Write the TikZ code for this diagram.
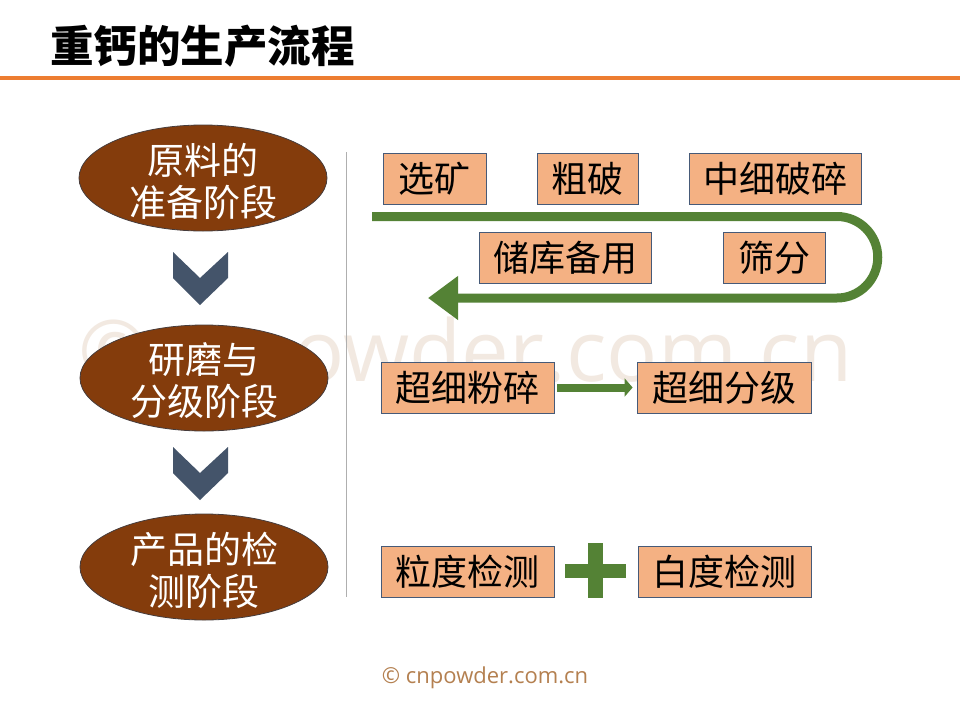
\documentclass[tikz,border=0pt]{standalone}
\usepackage{fontspec}
\usetikzlibrary{arrows.meta,shapes.geometric}
\newfontfamily\cjk{Noto Sans CJK SC}
\newfontfamily\wmfont{Open Sans}
\definecolor{stagebrown}{RGB}{132,60,12}
\definecolor{stageedge}{RGB}{70,60,60}
\definecolor{boxfill}{RGB}{244,177,131}
\definecolor{boxedge}{RGB}{70,90,120}
\definecolor{flowgreen}{RGB}{84,130,53}
\definecolor{chevcol}{RGB}{68,84,106}
\definecolor{titleline}{RGB}{237,125,49}
\definecolor{wmcol}{RGB}{242,233,225}
\definecolor{footcol}{RGB}{180,128,80}
\definecolor{sepgray}{RGB}{175,175,175}
\tikzset{
  stage/.style={ellipse, fill=stagebrown, draw=stageedge, line width=0.8pt,
    minimum width=248pt, minimum height=106pt, inner sep=0pt,
    text=white, align=center, font=\cjk\fontsize{37}{42}\selectfont},
  stagetext/.style={inner sep=0pt, text=white, align=center, font=\cjk\fontsize{37}{42}\selectfont},
  stepbox/.style={rectangle, fill=boxfill, draw=boxedge, line width=0.8pt,
    minimum height=51pt, inner sep=0pt, text=black,
    font=\cjk\fontsize{36}{38}\selectfont},
  chev/.style={fill=chevcol},
  flow/.style={draw=flowgreen, line width=9pt},
}
\begin{document}
\begin{tikzpicture}[x=1pt,y=-1pt]
\useasboundingbox[fill=white] (0,0) rectangle (960,720);
% watermark
\node[anchor=base west, inner sep=0pt, text=wmcol, font=\wmfont\fontsize{85}{85}\selectfont] (wm) at (78,381) {©cnpowder.com.cn};
% title
\node[anchor=west, inner sep=0pt, font=\cjk\bfseries\fontsize{43.5}{46}\selectfont] (title) at (50,46) {重钙的生产流程};
\draw[titleline, line width=4pt] (0,78) -- (960,78);
% separator
\draw[sepgray, line width=1pt] (346,152) -- (346,597);
% stages
\node[stage] (s1) at (203,178) {};
\node[stagetext] (s1t) at (203,181) {原料的\\准备阶段};
\node[stage] (s2) at (204,378) {};
\node[stagetext] (s2t) at (204,381) {研磨与\\分级阶段};
\node[stage] (s3) at (204,567) {};
\node[stagetext] (s3t) at (204,570) {产品的检\\测阶段};
% chevrons
\fill[chev] (173,252) -- (200,278) -- (228,252) -- (228,278) -- (200,305) -- (173,278) -- cycle;
\fill[chev] (173,447) -- (200,473) -- (228,447) -- (228,473) -- (200,500) -- (173,473) -- cycle;
% row 1 boxes
\node[stepbox, minimum width=103pt] (b1) at (434.5,178.5) {选矿};
\node[stepbox, minimum width=101pt] (b2) at (587.5,178.5) {粗破};
\node[stepbox, minimum width=172pt] (b3) at (775,178.5) {中细破碎};
\node[stepbox, minimum width=172pt] (b4) at (565,258) {储库备用};
\node[stepbox, minimum width=102pt] (b5) at (774,258) {筛分};
% U arrow
\coordinate (ustart) at (372,216.5);
\coordinate (uturn) at (837,216.5);
\coordinate (uend) at (428,298);
\draw[flow, -{Triangle[length=30pt,width=42pt]}] (ustart) -- (uturn) arc[start angle=90, end angle=-90, radius=40.75pt] -- (uend);
% row 2
\node[stepbox, minimum width=173pt] (c1) at (467.5,387.5) {超细粉碎};
\node[stepbox, minimum width=174pt] (c2) at (724,387.5) {超细分级};
\draw[draw=flowgreen, line width=8pt, -{Triangle[length=8pt,width=18pt]}] ([xshift=3pt]c1.east) -- ([xshift=-4pt]c2.west);
% row 3
\node[stepbox, minimum width=173pt] (d1) at (467.5,571.5) {粒度检测};
\node[stepbox, minimum width=173pt] (d2) at (724.5,571.5) {白度检测};
\fill[flowgreen] (565,564) rectangle (626,578);
\fill[flowgreen] (588,543) rectangle (603,598);
% footer
\node[text=footcol, inner sep=0pt, font=\wmfont\fontsize{22}{24}\selectfont] (foot) at (485,678) {© cnpowder.com.cn};
\end{tikzpicture}
\end{document}
